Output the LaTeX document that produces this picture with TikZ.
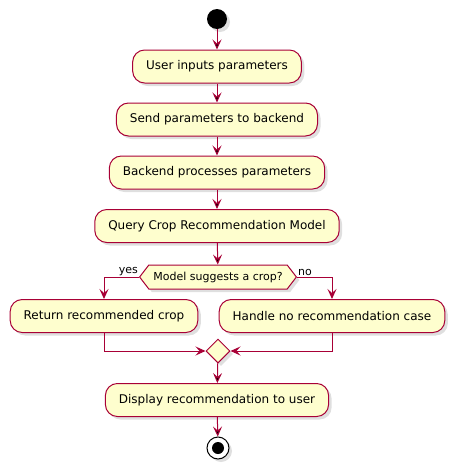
\documentclass[tikz,border=0pt]{standalone}
\usepackage{fontspec}
\setmainfont{DejaVu Sans}
\usetikzlibrary{arrows.meta,shapes.symbols,shapes.geometric,shadows}

\definecolor{borde}{HTML}{A80036}
\definecolor{relleno}{HTML}{FEFECE}

\tikzstyle{sombra}= [drop shadow={shadow xshift=3pt,shadow yshift=-3pt,opacity=0.25}]
\tikzstyle{accion}= [rectangle,rounded corners=12pt,draw=borde,fill=relleno,line width=1pt,minimum height=33pt,inner xsep=13.5pt,font=\fontsize{12}{14}\selectfont,sombra]
\tikzstyle{decision}= [signal,signal to=west and east,signal pointer angle=105,draw=borde,fill=relleno,line width=1pt,minimum height=24pt,inner xsep=4.5pt,inner ysep=0pt,font=\fontsize{11}{13}\selectfont,sombra]
\tikzstyle{union}= [diamond,draw=borde,fill=relleno,line width=1pt,minimum size=24pt,inner sep=0pt,sombra]
\tikzstyle{etiqueta}= [inner sep=1pt,font=\fontsize{11}{13}\selectfont]
\tikzstyle{flecha}= [draw=borde,line width=1pt,-{Stealth[length=10pt,width=9pt,inset=4pt]}]

\begin{document}
\begin{tikzpicture}[x=1pt,y=-1pt]
		\useasboundingbox (0,0) rectangle (456,469);

		\node (inicio) at (217,19) [circle,fill=black,minimum size=20pt,inner sep=0pt,sombra] {};

		\node (u) at (217,66.5) [accion] {User inputs parameters};
		\node (s) at (217,119.5) [accion] {Send parameters to backend};
		\node (b) at (217,172.5) [accion] {Backend processes parameters};
		\node (q) at (217,226) [accion] {Query Crop Recommendation Model};

		\node (dec) at (218,277) [decision] {Model suggests a crop?};
		\node (ret) at (104,316) [accion] {Return recommended crop};
		\node (han) at (332,316) [accion] {Handle no recommendation case};
		\node (merge) at (218,351) [union] {};

		\node (disp) at (217,400) [accion] {Display recommendation to user};

		\node (fin) at (218,448) [circle,draw=black,line width=1pt,fill=white,minimum size=22pt,inner sep=0pt,sombra] {};
		\node (fin/p) at (218,448) [circle,fill=black,minimum size=12pt,inner sep=0pt] {};

		\node at (dec.west) [etiqueta,anchor=south east] {yes};
		\node at (dec.east) [etiqueta,anchor=south west] {no};

		\path[flecha] (inicio) edge[] node {} (u);
		\path[flecha] (u) edge[] node {} (s);
		\path[flecha] (s) edge[] node {} (b);
		\path[flecha] (b) edge[] node {} (q);
		\path[flecha] (q) edge[] node {} (dec);
		\draw[flecha] (dec.west) -| (ret.north);
		\draw[flecha] (dec.east) -| (han.north);
		\draw[flecha] (ret.south) |- (merge.west);
		\draw[flecha] (han.south) |- (merge.east);
		\path[flecha] (merge) edge[] node {} (disp);
		\path[flecha] (disp) edge[] node {} (fin);
\end{tikzpicture}
\end{document}
